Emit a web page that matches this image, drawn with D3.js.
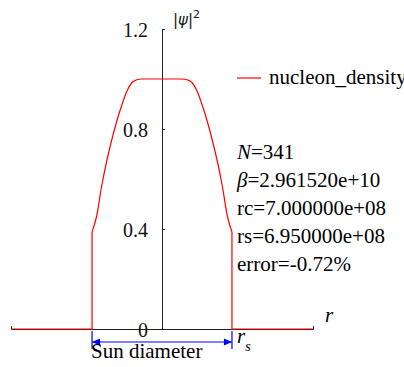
<!DOCTYPE html>
<html>
<head>
<meta charset="utf-8">
<script src="https://cdn.jsdelivr.net/npm/d3@7"></script>
<style>
  body { margin: 0; background: #fff; }
  svg { display: block; font-family: 'Liberation Serif', 'Times New Roman', serif; }
</style>
</head>
<body>
<div id="chart"></div>
<script>
// r in units of 1e8 m, density |psi|^2
const rs = 6.95
const xDomain = [-15, 15]
const yTicks = [0, 0.4, 0.8, 1.2]
const yTickLabels = ['0', '0.4', '0.8', '1.2']

// outer walls (vacuum outside the sun, jump at r = +/- rs)
const leftWall = [[-15, 0], [-6.95, 0], [-6.95, 0.388]]
const rightWall = [[6.95, 0.388], [6.95, 0], [15, 0]]

// smooth interior profile
const innerR = [-6.95, -6.5, -6, -5.5, -5, -4.5, -4, -3.5, -3, -2.5, -2, -1, 0,
  1, 2, 2.5, 3, 3.5, 4, 4.5, 5, 5.5, 6, 6.5, 6.95]
const innerDensity = [0.388, 0.45, 0.57, 0.67, 0.755, 0.83, 0.895, 0.95, 0.985, 0.997, 1.0, 1.0, 1.0,
  1.0, 1.0, 0.997, 0.985, 0.95, 0.895, 0.83, 0.755, 0.67, 0.57, 0.45, 0.388]

const infoLines = ['N=341', 'β=2.961520e+10', 'rc=7.000000e+08', 'rs=6.950000e+08', 'error=-0.72%']

const width = 404
const height = 367

const svg = d3.select('#chart')
  .append('svg')
  .attr('width', width)
  .attr('height', height)

const x = d3.scaleLinear().domain(xDomain).range([11, 313])
const y = d3.scaleLinear().domain([0, 1.2]).range([329, 29])

// x axis: bare line with small upward end ticks
svg.append('g')
  .attr('transform', `translate(0, ${y(0)})`)
  .call(d3.axisTop(x).tickValues([]).tickSizeOuter(3))
  .call(g => g.select('.domain').attr('stroke', '#222'))

// y axis at r = 0, ticks to the right, labels on the left
svg.append('g')
  .attr('transform', `translate(${x(0)}, 0)`)
  .call(d3.axisRight(y).tickValues(yTicks).tickSize(3).tickSizeOuter(0)
    .tickFormat((d, i) => yTickLabels[i]))
  .call(g => g.select('.domain').attr('stroke', '#222'))
  .call(g => g.selectAll('.tick line').attr('stroke', '#222'))
  .call(g => g.selectAll('.tick text')
    .attr('x', -14)
    .attr('dy', '0.35em')
    .attr('text-anchor', 'end')
    .attr('fill', '#111')
    .style('font-family', "'Liberation Serif', serif")
    .style('font-size', '20px'))

// curve
const line = d3.line().x(d => x(d[0])).y(d => y(d[1]))
const smooth = d3.line().x(d => x(d[0])).y(d => y(d[1])).curve(d3.curveMonotoneX)

const curve = svg.append('g')
  .attr('fill', 'none')
  .attr('stroke', 'red')
  .attr('stroke-width', 1.2)

curve.append('path').attr('d', line(leftWall))
curve.append('path').attr('d', line(rightWall))
curve.append('path').attr('d', smooth(innerR.map((r, i) => [r, innerDensity[i]])))

// axis labels
const yLab = svg.append('text')
  .attr('x', 173)
  .attr('y', 25)
  .style('font-family', "'DejaVu Sans', sans-serif")
  .style('font-size', '15px')
  .attr('fill', '#111')
yLab.append('tspan').text('|')
yLab.append('tspan').attr('font-style', 'italic').text('ψ')
yLab.append('tspan').text('|')
yLab.append('tspan').attr('dy', -7).style('font-size', '11px').text('2')

svg.append('text')
  .attr('x', 325)
  .attr('y', 322)
  .attr('font-style', 'italic')
  .style('font-size', '21px')
  .text('r')

// legend
svg.append('line')
  .attr('x1', 237).attr('x2', 261)
  .attr('y1', 78).attr('y2', 78)
  .attr('stroke', 'red')
  .attr('stroke-width', 1.2)
svg.append('text')
  .attr('x', 269)
  .attr('y', 84)
  .style('font-size', '21px')
  .text('nucleon_density')

// info text
const info = svg.append('g').style('font-size', '21px')
infoLines.forEach((t, i) => {
  const txt = info.append('text').attr('x', 237).attr('y', 159 + i * 28)
  if (i === 0) {
    txt.append('tspan').attr('font-style', 'italic').text('N')
    txt.append('tspan').text(t.slice(1))
  } else if (i === 1) {
    txt.append('tspan').attr('font-style', 'italic').text('β')
    txt.append('tspan').text(t.slice(1))
  } else {
    txt.text(t)
  }
})

// sun diameter arrow
const arrowY = 342
const blue = svg.append('g').attr('stroke', 'blue').attr('fill', 'blue')
blue.append('line')
  .attr('x1', x(-rs)).attr('x2', x(rs))
  .attr('y1', arrowY).attr('y2', arrowY)
  .attr('stroke-width', 1.2)
;[-rs, rs].forEach(r => {
  blue.append('line')
    .attr('x1', x(r)).attr('x2', x(r))
    .attr('y1', 331).attr('y2', 349)
    .attr('stroke-width', 1.2)
  const dir = r < 0 ? 1 : -1
  blue.append('path')
    .attr('stroke', 'none')
    .attr('d', `M${x(r)},${arrowY}L${x(r) + dir * 8},${arrowY - 3.5}L${x(r) + dir * 8},${arrowY + 3.5}Z`)
})

svg.append('text')
  .attr('x', 91)
  .attr('y', 358)
  .style('font-size', '21px')
  .text('Sun diameter')

const rsLab = svg.append('text')
  .attr('x', 237)
  .attr('y', 343)
  .attr('font-style', 'italic')
  .style('font-size', '21px')
rsLab.append('tspan').text('r')
rsLab.append('tspan').attr('dy', 8).style('font-size', '14px').text('s')
</script>
</body>
</html>
